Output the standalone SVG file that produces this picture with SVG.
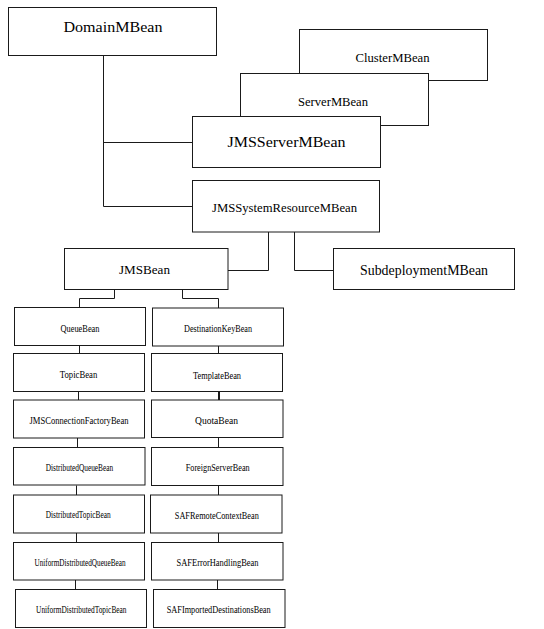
<svg xmlns="http://www.w3.org/2000/svg" width="544" height="629" viewBox="0 0 544 629">
<style>
.box{fill:#fff;stroke:#1a1a1a;stroke-width:1}
.ln{fill:none;stroke:#1a1a1a;stroke-width:1}
.t{font-family:'Liberation Serif',serif !important}
</style>
<rect width="544" height="629" fill="#fff"/>
<g id="connectors">
<path class="ln" d="M103.5 55 V206.5 H192 M103.5 142.5 H192"/>
<path class="ln" d="M268.5 232 V270.5 H228"/>
<path class="ln" d="M294.5 232 V270.5 H333"/>
<path class="ln" d="M114.5 289 V298.5 H79.5 V307.5"/>
<path class="ln" d="M182.5 289 V298.5 H218.5 V308"/>
<path class="ln" d="M79.5 345.5 V353.5 M78.5 391.5 V400 M77.5 438 V447.5 M76.5 485.5 V495 M76.5 533 V542.5 M75.5 580 V589"/>
<path class="ln" d="M218.5 346 V353.5 M218.5 437.5 V447.5 M218.5 485.5 V495 M218.5 533 V542.5 M217.5 580 V589"/>
<path class="ln" d="M219 391.5 V400" style="stroke-width:2"/>
</g>
<g fill="#000" text-anchor="middle" font-family="Liberation Serif">
<g id="DomainMBean"><rect class="box" x="8.5" y="7.5" width="208" height="48"/><text class="t" style="font-family:'Liberation Serif',serif !important" x="113" y="32" font-size="15.5" textLength="99" lengthAdjust="spacingAndGlyphs">DomainMBean</text></g>
<g id="ClusterMBean"><rect class="box" x="299.5" y="29.5" width="188" height="51"/><text class="t" style="font-family:'Liberation Serif',serif !important" x="392.5" y="61.5" font-size="13" textLength="74" lengthAdjust="spacingAndGlyphs">ClusterMBean</text></g>
<g id="ServerMBean"><rect class="box" x="240.5" y="73.5" width="188" height="52"/><text class="t" style="font-family:'Liberation Serif',serif !important" x="333" y="106" font-size="13" textLength="70" lengthAdjust="spacingAndGlyphs">ServerMBean</text></g>
<g id="JMSServerMBean"><rect class="box" x="192.5" y="116.5" width="188" height="51"/><text class="t" style="font-family:'Liberation Serif',serif !important" x="286.5" y="147" font-size="15.5" textLength="118" lengthAdjust="spacingAndGlyphs">JMSServerMBean</text></g>
<g id="JMSSystemResourceMBean"><rect class="box" x="192.5" y="180.5" width="187" height="51.5"/><text class="t" style="font-family:'Liberation Serif',serif !important" x="284.5" y="211.5" font-size="13.5" textLength="145" lengthAdjust="spacingAndGlyphs">JMSSystemResourceMBean</text></g>
<g id="JMSBean"><rect class="box" x="64.5" y="248.5" width="163.5" height="41"/><text class="t" style="font-family:'Liberation Serif',serif !important" x="144.5" y="274" font-size="13.5" textLength="51" lengthAdjust="spacingAndGlyphs">JMSBean</text></g>
<g id="SubdeploymentMBean"><rect class="box" x="333.5" y="248.5" width="181" height="41"/><text class="t" style="font-family:'Liberation Serif',serif !important" x="424" y="274.5" font-size="14" textLength="128" lengthAdjust="spacingAndGlyphs">SubdeploymentMBean</text></g>
<g font-size="10">
<g id="QueueBean"><rect class="box" x="14.5" y="307.5" width="131" height="38"/><text class="t" style="font-family:'Liberation Serif',serif !important" x="80" y="331.5" textLength="39" lengthAdjust="spacingAndGlyphs">QueueBean</text></g>
<g id="TopicBean"><rect class="box" x="13.5" y="353.5" width="131" height="38"/><text class="t" style="font-family:'Liberation Serif',serif !important" x="78.5" y="378" textLength="37.5" lengthAdjust="spacingAndGlyphs">TopicBean</text></g>
<g id="JMSConnectionFactoryBean"><rect class="box" x="13.5" y="400" width="131" height="38"/><text class="t" style="font-family:'Liberation Serif',serif !important" x="79" y="424" textLength="99" lengthAdjust="spacingAndGlyphs">JMSConnectionFactoryBean</text></g>
<g id="DistributedQueueBean"><rect class="box" x="13.5" y="447.5" width="131.5" height="37.5"/><text class="t" style="font-family:'Liberation Serif',serif !important" x="79.5" y="471" textLength="67.5" lengthAdjust="spacingAndGlyphs">DistributedQueueBean</text></g>
<g id="DistributedTopicBean"><rect class="box" x="13.5" y="495" width="131" height="38"/><text class="t" style="font-family:'Liberation Serif',serif !important" x="78.2" y="518" textLength="65" lengthAdjust="spacingAndGlyphs">DistributedTopicBean</text></g>
<g id="UniformDistributedQueueBean"><rect class="box" x="13.5" y="542.5" width="131" height="37.5"/><text class="t" style="font-family:'Liberation Serif',serif !important" x="80" y="565.5" textLength="91" lengthAdjust="spacingAndGlyphs">UniformDistributedQueueBean</text></g>
<g id="UniformDistributedTopicBean"><rect class="box" x="15.5" y="589.5" width="131" height="38"/><text class="t" style="font-family:'Liberation Serif',serif !important" x="81.3" y="613" textLength="90.5" lengthAdjust="spacingAndGlyphs">UniformDistributedTopicBean</text></g>
<g id="DestinationKeyBean"><rect class="box" x="152.5" y="308" width="131" height="38"/><text class="t" style="font-family:'Liberation Serif',serif !important" x="218" y="332" textLength="68" lengthAdjust="spacingAndGlyphs">DestinationKeyBean</text></g>
<g id="TemplateBean"><rect class="box" x="151.5" y="353.5" width="131" height="38"/><text class="t" style="font-family:'Liberation Serif',serif !important" x="217" y="378.5" textLength="48" lengthAdjust="spacingAndGlyphs">TemplateBean</text></g>
<g id="QuotaBean"><rect class="box" x="151.5" y="400" width="131.5" height="37.5"/><text class="t" style="font-family:'Liberation Serif',serif !important" x="216.5" y="424" textLength="43" lengthAdjust="spacingAndGlyphs">QuotaBean</text></g>
<g id="ForeignServerBean"><rect class="box" x="151.5" y="447.5" width="131.5" height="38"/><text class="t" style="font-family:'Liberation Serif',serif !important" x="217.7" y="471" textLength="64" lengthAdjust="spacingAndGlyphs">ForeignServerBean</text></g>
<g id="SAFRemoteContextBean"><rect class="box" x="150.5" y="495" width="131.5" height="38"/><text class="t" style="font-family:'Liberation Serif',serif !important" x="216.8" y="519" textLength="84" lengthAdjust="spacingAndGlyphs">SAFRemoteContextBean</text></g>
<g id="SAFErrorHandlingBean"><rect class="box" x="151.5" y="542.5" width="131.5" height="37.5"/><text class="t" style="font-family:'Liberation Serif',serif !important" x="217.5" y="565.5" textLength="82" lengthAdjust="spacingAndGlyphs">SAFErrorHandlingBean</text></g>
<g id="SAFImportedDestinationsBean"><rect class="box" x="153.5" y="589.5" width="131.5" height="38"/><text class="t" style="font-family:'Liberation Serif',serif !important" x="218.7" y="613" textLength="104" lengthAdjust="spacingAndGlyphs">SAFImportedDestinationsBean</text></g>
</g>
</g>
</svg>
